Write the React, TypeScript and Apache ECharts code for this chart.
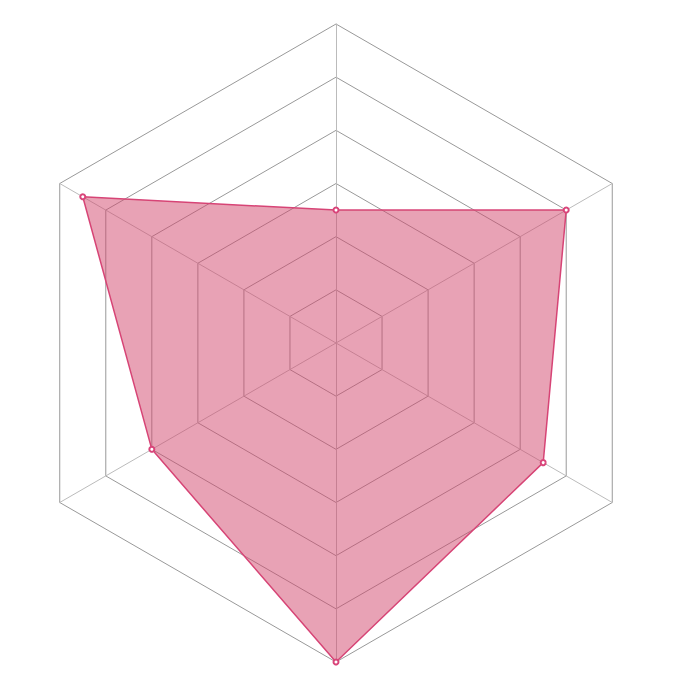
import React, { useEffect, useRef } from "react";
import * as echarts from "echarts";

const indicators = ["A", "B", "C", "D", "E", "F"];
const maxValue = 12;
const values = [5, 11, 8, 12, 9, 10];

export default function App() {
  const ref = useRef<HTMLDivElement>(null);
  useEffect(() => {
    const chart = echarts.init(ref.current!, null, { renderer: "svg" });
    chart.setOption({
      animation: false,
      radar: {
        center: [336, 343],
        radius: 319,
        splitNumber: 6,
        shape: "polygon",
        indicator: indicators.map((n) => ({ name: n, max: maxValue })),
        axisName: { show: false },
        axisLine: { lineStyle: { color: "#bbb", width: 1 } },
        splitLine: { lineStyle: { color: "#999", width: 1 } },
        splitArea: { show: false },
      },
      series: [
        {
          type: "radar",
          symbol: "emptyCircle",
          symbolSize: 5,
          lineStyle: { color: "#d9457a", width: 1.5 },
          itemStyle: { color: "#d9457a" },
          areaStyle: { color: "#d1456b", opacity: 0.5 },
          data: [{ value: values }],
        },
      ],
    });
    return () => chart.dispose();
  }, []);
  return (
    <div
      ref={ref}
      style={{ position: "fixed", left: 0, top: 0, width: 688, height: 688 }}
    />
  );
}
